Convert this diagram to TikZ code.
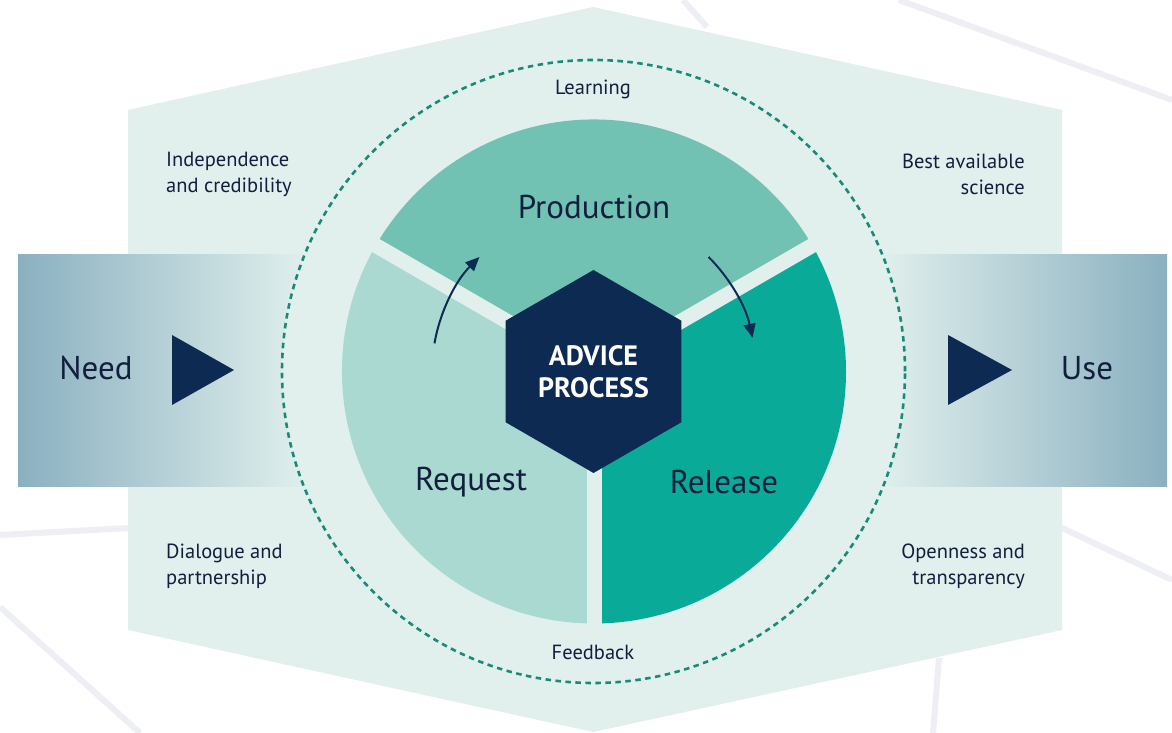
\documentclass[tikz,border=0pt]{standalone}
\usepackage{fontspec}
\setmainfont{PT Sans}
\usetikzlibrary{shapes.geometric,arrows.meta}
\definecolor{mint}{HTML}{E1F0ED}
\definecolor{bandblue}{HTML}{8AB0C0}
\definecolor{prodcol}{HTML}{72C2B4}
\definecolor{reqcol}{HTML}{A9D9D1}
\definecolor{relcol}{HTML}{0AAA98}
\definecolor{navy}{HTML}{0D2A52}
\definecolor{txt}{HTML}{121E3E}
\definecolor{dotcol}{HTML}{178A78}
\definecolor{faint}{HTML}{EDEFF4}
\tikzset{
  faintline/.style={draw=faint,line width=6pt},
  gapline/.style={draw=mint,line width=15pt},
  lbl/.style={text=txt,inner sep=0pt,font=\fontsize{20.5}{26}\selectfont},
  big/.style={text=txt,inner sep=0pt,font=\fontsize{33}{38}\selectfont},
  cyc/.style={navy,line width=2pt,-{Triangle[length=14pt,width=12pt]}},
  hexa/.style={regular polygon,regular polygon sides=6,shape border rotate=30,
    minimum size=203pt,inner sep=0pt,fill=navy,text=white,align=center,
    font=\bfseries\fontsize{28}{32}\selectfont}
}
\begin{document}
\begin{tikzpicture}[x=1pt,y=1pt]
\useasboundingbox (0,0) rectangle (1172,733);
\fill[white] (0,0) rectangle (1172,733);
% faint background lines
\draw[faintline] (683,733) -- (707,706);
\draw[faintline] (899,733) -- (1172,633);
\draw[faintline] (0,198) -- (130,205);
\draw[faintline] (0,126) -- (140,0);
\draw[faintline] (1060,206) -- (1172,153);
\draw[faintline] (939,75) -- (933,0);
% large hexagonal backdrop
\fill[mint] (128,623) -- (593,726) -- (1062,623) -- (1062,103) -- (593,1) -- (128,103) -- cycle;
% band
\shade[left color=bandblue,right color=mint] (18,246) rectangle (310,478);
\shade[left color=mint,right color=bandblue] (877,246) rectangle (1167,478);
% inner disk and dotted circle
\coordinate (C) at (594,361.5);
\fill[mint] (593.5,361.5) circle (311.5);
\draw[dotcol,line width=2.6pt,dash pattern=on 5.5pt off 4.5pt] (593.5,361.5) circle (311.5);
% sectors
\fill[prodcol] (C) -- ++(30:252) arc (30:150:252) -- cycle;
\fill[reqcol] (C) -- ++(150:252) arc (150:270:252) -- cycle;
\fill[relcol] (C) -- ++(-90:252) arc (-90:30:252) -- cycle;
\draw[gapline] (C) -- ++(30:262);
\draw[gapline] (C) -- ++(150:262);
\draw[gapline] (C) -- ++(270:262);
% centre hexagon
\node[hexa] (hex) at (593.5,361.5) {ADVICE\\PROCESS};
% cycle arrows
\path (C) ++(170:162) coordinate (a1s);
\path (C) ++(45:162) coordinate (a2s);
\draw[cyc] (a1s) arc (170:135:162);
\draw[cyc] (a2s) arc (45:12:162);
% triangles
\fill[navy] (172,398) -- (172,328) -- (234,363) -- cycle;
\fill[navy] (948,398) -- (948,328) -- (1012,363) -- cycle;
% texts
\node[big] (prod) at (594,526) {Production};
\node[big] (req) at (471,251) {Request};
\node[big] (rel) at (724,251) {Release};
\node[big] (need) at (96,365) {Need};
\node[big] (use) at (1087,365) {Use};
\node[lbl] (learn) at (593,644) {Learning};
\node[lbl] (feed) at (593,81) {Feedback};
\node[lbl,anchor=west,align=left] (ind) at (166,559) {Independence\\and credibility};
\node[lbl,anchor=east,align=right] (best) at (1025,559) {Best available\\science};
\node[lbl,anchor=west,align=left] (dia) at (166,167) {Dialogue and\\partnership};
\node[lbl,anchor=east,align=right] (open) at (1025,167) {Openness and\\transparency};
\end{tikzpicture}
\end{document}
